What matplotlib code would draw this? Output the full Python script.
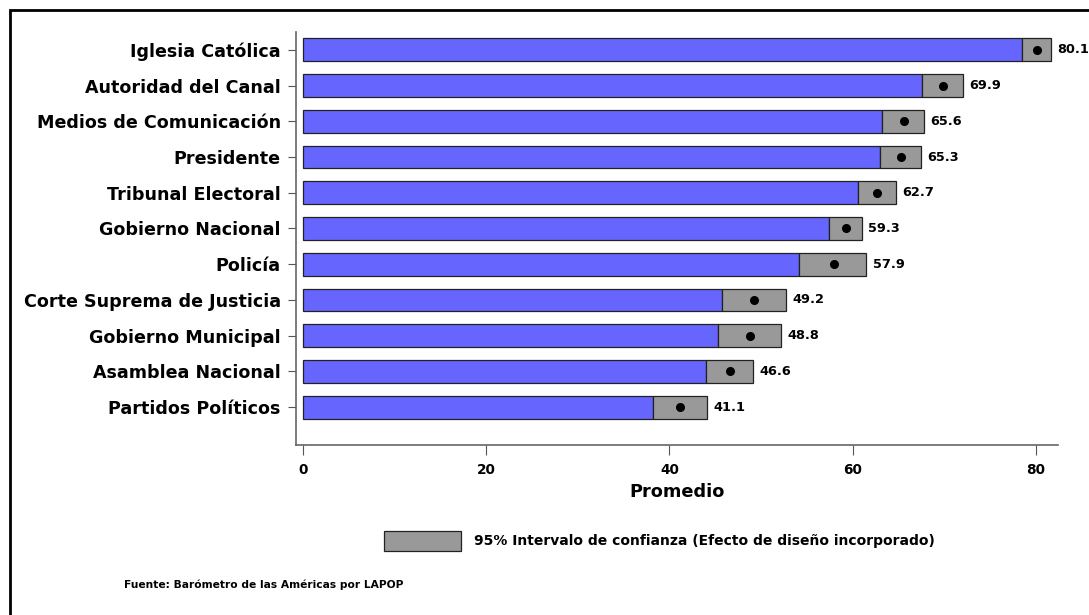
import numpy as np
import matplotlib.pyplot as plt
from matplotlib.patches import Rectangle

categories = [
    "Iglesia Católica",
    "Autoridad del Canal",
    "Medios de Comunicación",
    "Presidente",
    "Tribunal Electoral",
    "Gobierno Nacional",
    "Policía",
    "Corte Suprema de Justicia",
    "Gobierno Municipal",
    "Asamblea Nacional",
    "Partidos Políticos",
]
means = [80.1, 69.9, 65.6, 65.3, 62.7, 59.3, 57.9, 49.2, 48.8, 46.6, 41.1]
ci_low = [78.5, 67.6, 63.2, 63.0, 60.6, 57.4, 54.1, 45.7, 45.3, 44.0, 38.2]
ci_high = [81.6, 72.0, 67.8, 67.4, 64.7, 61.0, 61.5, 52.7, 52.2, 49.1, 44.1]
x_ticks = [0, 20, 40, 60, 80]

plt.rcParams["font.family"] = ["DejaVu Sans"]
plt.rcParams["font.weight"] = "bold"

fig = plt.figure(figsize=(10.89, 6.15), dpi=100)
W, H = 1089, 615
ax = fig.add_axes([296 / W, 1 - 445 / H, (1058 - 296) / W, (445 - 32) / H])

y = np.arange(len(categories))[::-1].astype(float)
means = np.array(means)
lo = np.array(ci_low)
hi = np.array(ci_high)
bh = 0.64

ax.barh(y, lo, height=bh, color="#6666FF", edgecolor="#222222", linewidth=0.9, zorder=2)
ax.barh(y, hi - lo, left=lo, height=bh, color="#999999", edgecolor="#222222",
        linewidth=0.9, zorder=2)
ax.plot(means, y, "o", color="black", markersize=5.5, zorder=3)

for yy, m, h in zip(y, means, hi):
    ax.annotate(f"{m:.1f}", (h, yy), xytext=(4.5, 0), textcoords="offset points",
                va="center", ha="left", fontsize=9.3, fontweight="bold")

ax.set_xlim(-0.76, 82.4)
ax.set_ylim(-1.06, y.max() + 0.5)
ax.set_yticks(y)
ax.set_yticklabels(categories, fontsize=12.6, fontweight="bold")
ax.set_xticks(x_ticks)
ax.set_xticklabels([str(t) for t in x_ticks], fontsize=9.8, fontweight="bold")
ax.tick_params(axis="y", length=6, color="#555555", pad=5)
ax.tick_params(axis="x", length=7, color="#555555", pad=6)
ax.set_xlabel("Promedio", fontsize=12.8, fontweight="bold", labelpad=4)

for s in ["top", "right"]:
    ax.spines[s].set_visible(False)
for s in ["left", "bottom"]:
    ax.spines[s].set_color("#666666")
    ax.spines[s].set_linewidth(1.2)

# legend box for CI
fig.patches.append(Rectangle((384 / W, 1 - 551 / H), 77 / W, 20 / H,
                             transform=fig.transFigure, facecolor="#999999",
                             edgecolor="#222222", linewidth=0.9))
fig.text(474 / W, 1 - 541 / H, "95% Intervalo de confianza (Efecto de diseño incorporado)",
         fontsize=10, fontweight="bold", va="center", ha="left")
fig.text(124 / W, 1 - 585 / H, "Fuente: Barómetro de las Américas por LAPOP",
         fontsize=7.7, fontweight="bold", va="center", ha="left")

# outer frame (top and left visible)
fig.patches.append(Rectangle((10 / W, -0.1), 1.2, 1 - 10 / H + 0.1,
                             transform=fig.transFigure, fill=False,
                             edgecolor="black", linewidth=2))

fig.savefig("out.png", dpi=100)
